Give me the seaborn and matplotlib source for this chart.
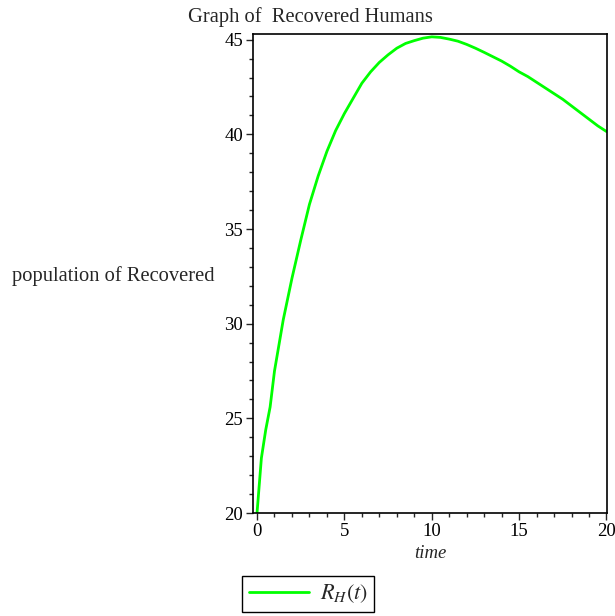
import numpy as np
import pandas as pd
import seaborn as sns
import matplotlib.pyplot as plt
from matplotlib.ticker import MultipleLocator

# values
time = [0.0, 0.25, 0.5, 0.75, 1.0, 1.5, 2.0, 2.5, 3.0, 3.5, 4.0, 4.5, 5.0, 5.5,
        6.0, 6.5, 7.0, 7.5, 8.0, 8.5, 9.0, 9.5, 10.0, 10.5, 11.0, 11.5, 12.0,
        12.5, 13.0, 13.5, 14.0, 14.5, 15.0, 15.5, 16.0, 16.5, 17.0, 17.5,
        18.0, 18.5, 19.0, 19.5, 20.0]
recovered = [20.0, 22.9, 24.4, 25.6, 27.5, 30.2, 32.4, 34.4, 36.3, 37.8, 39.1,
             40.2, 41.1, 41.9, 42.7, 43.3, 43.8, 44.2, 44.55, 44.8, 44.95,
             45.08, 45.15, 45.12, 45.03, 44.92, 44.75, 44.55, 44.33, 44.1,
             43.87, 43.6, 43.3, 43.05, 42.75, 42.45, 42.15, 41.85, 41.5,
             41.15, 40.8, 40.45, 40.15]

df = pd.DataFrame({"time": time, "R": recovered})

sns.set_style("ticks")
plt.rcParams['font.family'] = ['Liberation Serif', 'DejaVu Serif']
plt.rcParams['mathtext.fontset'] = 'stix'

fig = plt.figure(figsize=(6.15, 6.16), dpi=100)
ax = fig.add_axes([253/615, 103/616, 354/615, 479/616])

sns.lineplot(data=df, x="time", y="R", color="#00ff00", linewidth=2,
             label=r"$R_H(t)$", ax=ax, legend=False)

ax.set_xlim(-0.23, 20.03)
ax.set_ylim(20, 45.3)
ax.xaxis.set_major_locator(MultipleLocator(5))
ax.xaxis.set_minor_locator(MultipleLocator(1))
ax.yaxis.set_major_locator(MultipleLocator(5))
ax.yaxis.set_minor_locator(MultipleLocator(1))
ax.tick_params(which='major', length=5, width=1, labelsize=13.5, pad=2,
               labelcolor="black")
ax.tick_params(which='minor', length=3, width=1)
for s in ax.spines.values():
    s.set_linewidth(1.2)
    s.set_color("black")

ax.set_xlabel("time", fontsize=13.5, style="italic", labelpad=4)
ax.set_ylabel("population of Recovered", fontsize=14.8, rotation=0,
              ha="right", va="center")
ax.yaxis.set_label_coords(-0.11, 0.495)

fig.text(188/615, 1 - 17/616, "Graph of  Recovered Humans", fontsize=14.8,
         ha="left", va="center")

handles, labels = ax.get_legend_handles_labels()
fig.legend(handles, labels, loc="lower left",
           bbox_to_anchor=(242/615, 4/616), fontsize=16, frameon=True,
           fancybox=False, edgecolor="black", framealpha=1,
           handlelength=2.7, handletextpad=0.5, borderpad=0.3,
           borderaxespad=0)

fig.savefig("out.png", dpi=100)
